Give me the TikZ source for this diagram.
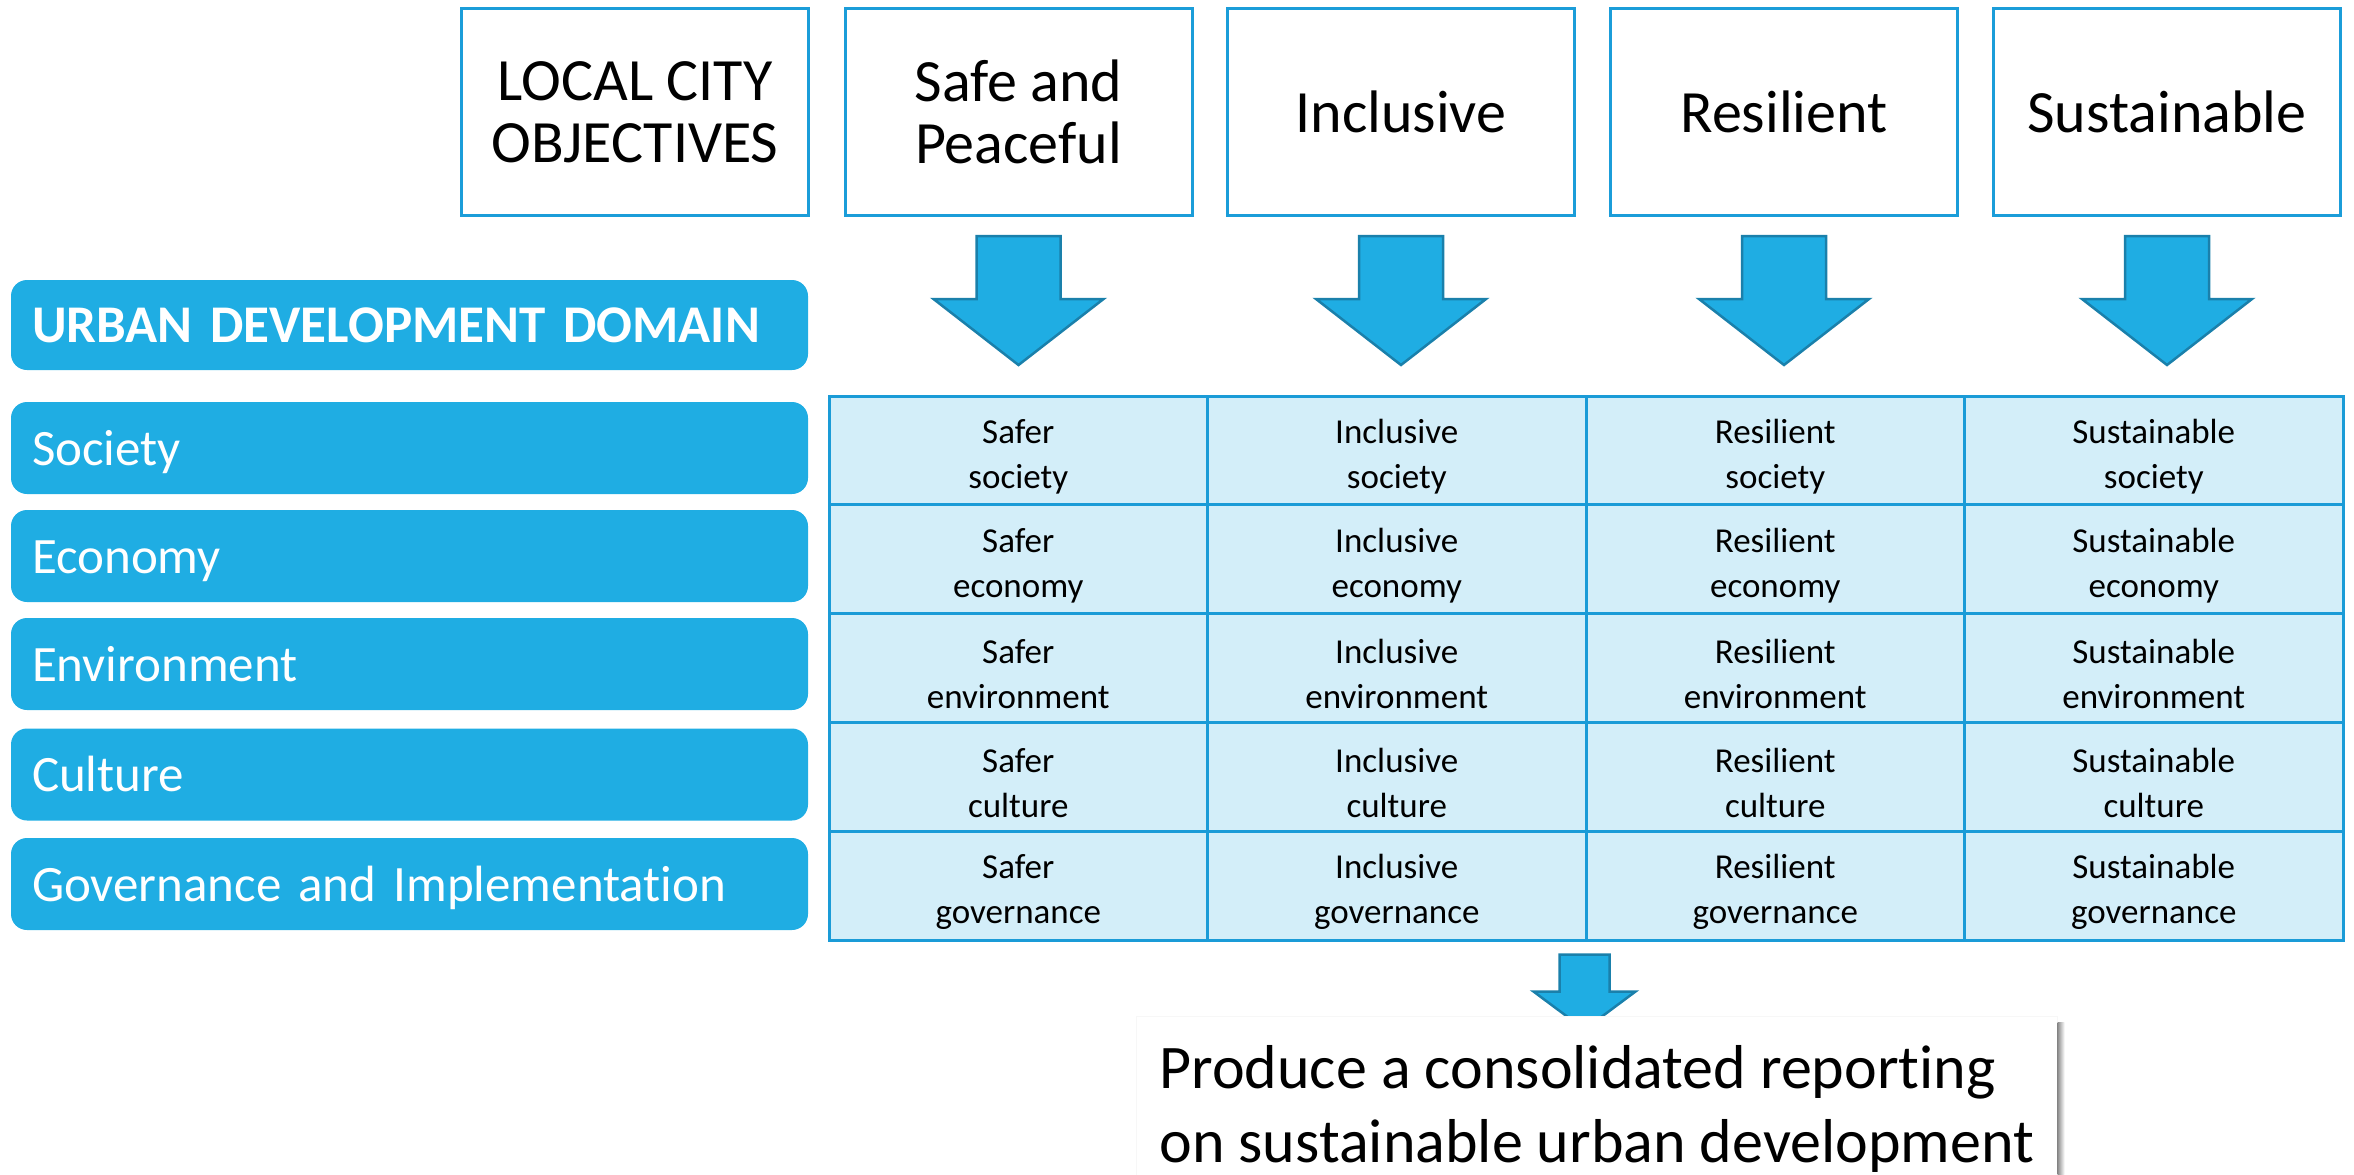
\documentclass[tikz,border=0pt]{standalone}
\usepackage{fontspec}
\setmainfont{Carlito}[Ligatures={NoCommon}]
\usetikzlibrary{calc}
\definecolor{bluefill}{HTML}{1FADE3}
\definecolor{boxline}{HTML}{1B9DD9}
\definecolor{arrowedge}{HTML}{1A80AB}
\definecolor{cellfill}{HTML}{D3EEF9}
\definecolor{tableline}{HTML}{1A9BD7}
\newcommand{\blockarrowat}[5]{% start coordinate, shaft half, head half, shaft length, head length
  \draw[blockarrow] (#1) ++(-#2,0) -- ++(2*#2,0) -- ++(0,#4) -- ++(#3-#2,0)
    -- ++(-#3,#5) -- ++(-#3,-#5) -- ++(#3-#2,0) -- cycle;}
\begin{document}
\begin{tikzpicture}[x=1pt,y=-1pt,
  topbox/.style={draw=boxline, line width=3pt, fill=white, minimum width=347pt,
    minimum height=207pt, align=center, inner sep=0pt,
    font=\fontsize{60}{62}\selectfont},
  domainbox/.style={fill=bluefill, rounded corners=16pt, text width=755pt,
    inner xsep=21pt, inner ysep=0pt, minimum height=92pt, align=left, text=white,
    font=\fontsize{51}{60}\selectfont, text height=34pt, text depth=0pt},
  cell/.style={draw=tableline, line width=3pt, fill=cellfill, minimum width=378.5pt,
    minimum height=108.8pt, inner sep=0pt, align=center,
    font=\fontsize{35}{45}\selectfont},
  blockarrow/.style={fill=bluefill, draw=arrowedge, line width=2.5pt, line join=miter},
  reportbox/.style={fill=white, draw=black!3, line width=1pt, align=left,
    inner xsep=23pt, inner ysep=29pt, font=\fontsize{62}{74}\selectfont}
]
\useasboundingbox (0,0) rectangle (2354,1175);

% top objective boxes
\node[topbox] (lco)  at (635,112)   {LOCAL CITY\\OBJECTIVES};
\node[topbox] (safe) at (1018.5,112) {Safe and\\Peaceful};
\node[topbox] (incl) at (1401,112)  {Inclusive};
\node[topbox] (resi) at (1784,112)  {Resilient};
\node[topbox] (sust) at (2167,112)  {Sustainable};

% domain boxes
\node[domainbox, font=\bfseries\fontsize{53}{60}\selectfont, minimum height=90pt] (udd) at (409.5,325) {URBAN DEVELOPMENT DOMAIN};
\node[domainbox] (soc)  at (409.5,448)   {Society};
\node[domainbox] (eco)  at (409.5,556)   {Economy};
\node[domainbox] (env)  at (409.5,664)   {Environment};
\node[domainbox] (cul)  at (409.5,774.5) {Culture};
\node[domainbox] (gov)  at (409.5,884)   {Governance and Implementation};

% table
\foreach \r/\w in {1/society,2/economy,3/environment,4/culture,5/governance}{
  \foreach \c/\a in {1/Safer,2/Inclusive,3/Resilient,4/Sustainable}{
    \node[cell] (c\r\c) at ({829+189.25*(2*\c-1)},{396+54.4*(2*\r-1)}) {\rule{0pt}{37pt}\a\\\w};
  }
}

% arrows from objectives to table
\coordinate (a1) at ([yshift=-19pt]safe.south);
\coordinate (a2) at ([yshift=-19pt]incl.south);
\coordinate (a3) at ([yshift=-19pt]resi.south);
\coordinate (a4) at ([yshift=-19pt]sust.south);
\foreach \p in {a1,a2,a3,a4}{\blockarrowat{\p}{42}{85}{63}{66}}

% arrow from table to report
\coordinate (a5) at ([yshift=-13pt]c53.south west);
\blockarrowat{a5}{25}{51}{37}{38}

% report box
\node[reportbox, anchor=north west] (report) at (1136,1016)
  {Produce a consolidated reporting\\on sustainable urban development};
\shade[left color=black!45, right color=white]
  ([yshift=-6pt]report.north east) rectangle ([xshift=7pt]report.south east);
\end{tikzpicture}
\end{document}
